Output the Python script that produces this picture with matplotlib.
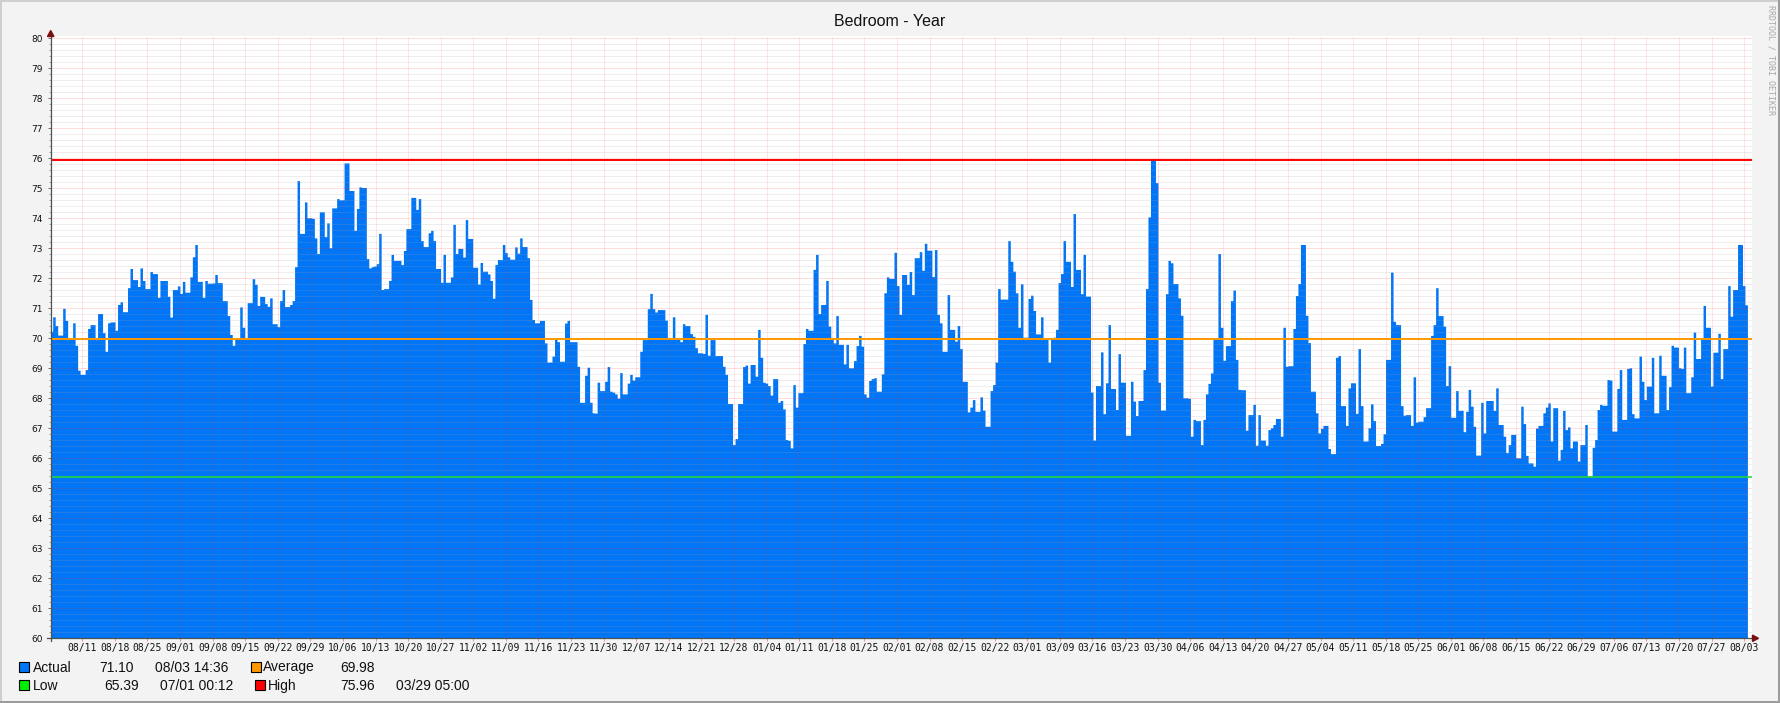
import matplotlib
matplotlib.use('Agg')
import matplotlib.pyplot as plt
import numpy as np
from matplotlib.patches import Rectangle, Polygon
from matplotlib.lines import Line2D

# ---------------- data ----------------
title = "Bedroom - Year"

seg1 = [70.22,70.70,70.41,70.09,70.09,70.98,70.58,70.00,70.00,70.50,
        69.75,68.92,68.78,68.78,68.94,70.31,70.44,70.44,69.94,70.81,
        70.81,70.17,69.55,70.50,70.53,70.53,70.25,71.11,71.20,70.87,
        70.87,71.67,72.31,71.94,71.94,71.71,72.33,71.91,71.64,71.64,
        72.21,72.14,72.14,71.35,71.91,71.91,71.91,71.38,70.69,71.61,
        71.61,71.73,71.48,71.88,71.52,71.52,72.03,72.70,73.11,71.88,
        71.88,71.35,71.91,71.82,71.82,71.83,72.11,71.84,71.84,71.24,
        71.24,70.74,70.11,69.75,69.98,70.00,71.03,70.35,70.00,71.17,
        71.17,71.97,71.78,71.08,71.38,71.38,71.14,71.05,71.33,70.47,
        70.47,70.37,71.24,71.61,71.04,71.04,71.11,71.24]
seg2 = [72.37,75.24,73.48,73.48,74.53,74.00,74.00,73.98,73.33,72.81,
        74.20,74.20,73.37,73.83,73.00,74.33,74.33,74.64,74.60,74.60,
        75.83,75.83,74.91,74.91,73.58,74.31,75.03,75.01,75.01,72.64,
        72.33,72.37,72.39,72.47,73.48,71.61,71.64,71.64,71.91,72.78,
        72.58,72.58,72.58,72.44,72.91,73.64,73.64,74.68,74.68,74.28,
        74.64,73.24,73.04,73.04,73.50,73.58,73.24,72.31,72.31,71.85,
        72.78,71.85,71.85,72.03,73.78,72.81,72.98,72.98,72.69,73.94,
        73.31,73.31,72.35,72.35,71.79,72.51,72.22,72.22,72.13,71.91,
        71.32,72.44,72.61,72.61,73.11,72.84,72.70,72.62,72.62,73.03,
        72.82,73.33,73.04,73.04,72.67,71.28,70.61,70.50,70.50]
seg3 = [70.58,70.58,69.83,69.19,69.19,69.39,70.00,69.87,69.22,69.22,
        70.49,70.58,69.87,69.87,69.87,69.05,67.85,67.85,68.75,69.02,
        67.85,67.50,67.49,68.52,68.24,68.24,68.55,69.04,68.22,68.19,
        68.13,67.99,68.84,68.13,68.13,68.49,68.78,68.59,68.70,68.70,
        69.55,69.94,69.94,70.97,71.48,70.97,70.86,70.94,70.94,70.94,
        70.59,69.98,69.98,70.70,69.98,69.98,69.87,70.47,70.41,70.41,
        70.14,70.05,69.67,69.50,69.50,69.48,70.78,69.42,69.94,69.94,
        69.41,69.41,69.41,69.05,68.78,67.81,67.81,66.44,66.64,67.81,
        67.81,69.04,69.09,68.49,69.11,69.11,68.72,70.28,69.35,68.52,
        68.49,68.41,68.09,68.64,68.64,67.85,67.91,67.63]
seg4 = [66.61,66.58,66.33,68.44,67.69,68.17,68.17,69.81,70.31,70.25,
        70.25,72.28,72.78,70.81,71.11,71.11,71.91,70.39,70.00,69.83,
        70.74,69.78,69.78,69.13,69.78,69.00,69.00,69.24,69.74,70.08,
        69.72,68.13,68.02,68.58,68.64,68.67,68.22,68.22,68.80,71.50,
        72.03,71.98,71.98,72.85,71.74,70.78,72.11,72.11,71.78,72.21,
        71.44,72.67,72.67,72.87,72.25,73.15,72.92,72.92,72.04,72.94,
        70.78,70.50,69.55,69.55,71.44,70.28,70.28,69.89,70.41,69.64,
        68.55,68.55,67.53,67.69,67.94,67.55,67.55,68.03,67.59,67.05,
        67.05,68.24,68.44,69.19,71.64,71.29,71.29,71.29,73.24,72.55,
        72.22,71.50,70.35,71.80,70.02,70.02,71.31]
seg5 = [71.42,70.91,70.13,70.13,70.70,70.00,70.00,69.19,70.00,70.02,
        70.28,71.84,72.14,73.24,72.55,72.55,71.71,74.14,72.28,72.28,
        71.47,72.78,71.39,71.39,68.19,66.59,68.41,68.41,69.53,67.47,
        68.50,70.44,68.31,68.31,67.61,69.47,68.52,68.52,66.75,66.75,
        68.55,67.89,67.41,67.91,67.91,68.94,71.64,74.03,75.96,75.96,
        75.17,68.52,67.59,67.59,71.47,72.58,72.50,71.81,71.81,71.33,
        70.75,68.00,68.00,67.98,66.72,67.28,67.24,67.24,66.44,67.28,
        68.13,68.48,68.83,70.00,70.00,72.81,70.35,69.25,69.74,69.74,
        71.24,71.59,69.28,68.28,68.27,68.27,66.92,67.44,67.44,67.78,
        66.42,67.44,66.59,66.59,66.42,66.94,67.00,67.11]
seg6 = [67.31,67.31,66.72,70.35,69.05,69.07,69.07,70.31,71.41,71.81,
        73.11,73.11,70.75,69.84,68.22,68.22,67.50,66.83,66.98,67.08,
        67.08,66.31,66.14,66.14,69.35,69.41,67.74,67.74,67.08,68.33,
        68.50,68.50,67.48,69.64,67.74,66.56,66.56,67.00,67.80,67.24,
        66.41,66.41,66.48,66.80,69.28,69.28,72.19,70.55,70.44,70.44,
        67.74,67.42,67.44,67.44,67.08,68.70,67.19,67.22,67.22,67.37,
        67.67,67.67,70.08,70.44,71.67,70.74,70.74,70.39,68.41,69.07,
        67.35,67.35,68.24,67.58,67.58,66.87,67.55,68.28,67.72,67.05,
        66.09,66.09,67.85,66.83,67.91,67.91,67.91,67.58,68.33,67.11,
        67.11,66.72,66.17,66.44,66.78,66.78,66.00,66.00]
seg7 = [67.72,67.14,66.08,65.83,65.83,65.72,66.99,67.08,67.08,67.50,
        67.69,67.83,66.56,67.67,67.67,65.92,66.28,67.58,66.94,67.03,
        66.33,66.56,66.56,65.89,66.44,66.44,67.11,65.39,65.39,66.35,
        66.61,67.61,67.78,67.75,67.75,68.61,68.59,66.89,66.89,68.31,
        68.94,67.28,67.28,68.98,69.00,67.47,67.33,67.33,69.39,68.55,
        67.94,68.39,68.39,69.35,67.50,67.50,69.42,68.75,68.75,67.61,
        68.37,69.75,69.69,69.69,69.00,68.98,69.69,68.17,68.17,68.70,
        70.19,69.31,69.31,69.98,71.08,70.35,70.35,68.39,69.52,69.52,
        70.15,68.64,69.64,69.64,71.74,70.72,71.61,71.61,73.11,73.11,
        71.74,71.10]
segments = [seg1, seg2, seg3, seg4, seg5, seg6, seg7]
# day offsets (days since graph start) bounding each segment of readings
segment_days = [0.0, 52.5, 105.1, 157.9, 210.6, 263.2, 315.9, 364.6]

x_labels = ['08/11','08/18','08/25','09/01','09/08','09/15','09/22','09/29',
            '10/06','10/13','10/20','10/27','11/02','11/09','11/16','11/23',
            '11/30','12/07','12/14','12/21','12/28','01/04','01/11','01/18',
            '01/25','02/01','02/08','02/15','02/22','03/01','03/09','03/16',
            '03/23','03/30','04/06','04/13','04/20','04/27','05/04','05/11',
            '05/18','05/25','06/01','06/08','06/15','06/22','06/29','07/06',
            '07/13','07/20','07/27','08/03']
first_label_day = 6.79
label_step_days = 7

avg_value = 69.98
low_value = 65.39
high_value = 75.96
actual_value = 71.10
actual_time = "08/03 14:36"
low_time = "07/01 00:12"
high_time = "03/29 05:00"

# ---------------- styling ----------------
W, H = 1781, 703
BLUE = '#0075F5'
ORANGE = '#FF9900'
GREEN = '#22DD33'
RED = '#FF0000'
BG = '#F3F3F3'

fig = plt.figure(figsize=(W / 100, H / 100), dpi=100, facecolor=BG)

def P(x, y):
    return (x / W, 1 - y / H)

ax_l, ax_r, ax_t, ax_b = 50.7, 1751.7, 36.0, 638.3
ax = fig.add_axes([ax_l / W, 1 - ax_b / H, (ax_r - ax_l) / W, (ax_b - ax_t) / H])
ax.set_facecolor('white')
px_per_day = 4.655
px_per_unit = 30.0
ax.set_xlim(0, (ax_r - ax_l) / px_per_day)
ax.set_ylim(60, 60 + (ax_b - ax_t) / px_per_unit)

# build stair data
vals, edges = [], []
for seg, a, b in zip(segments, segment_days[:-1], segment_days[1:]):
    e = np.linspace(a, b, len(seg) + 1)
    edges.extend(e[:-1])
    vals.extend(seg)
edges.append(segment_days[-1])
ax.stairs(vals, edges, baseline=60, fill=True, color=BLUE, zorder=2, lw=0)

# grid (drawn on top of area, translucent, dotted)
dot = (0, (1, 1))
minor_y = [v for v in np.round(np.arange(60.2, 80.01, 0.2), 1) if abs(v - round(v)) > 1e-6]
for v in minor_y:
    ax.axhline(v, color='#A8A8A8', alpha=0.38, lw=0.72, ls=dot, zorder=3)
for v in range(61, 81):
    ax.axhline(v, color='#FF3030', alpha=0.32, lw=0.72, ls=dot, zorder=3)
tick_days = [first_label_day + label_step_days * i for i in range(len(x_labels))]
for d in tick_days:
    ax.axvline(d, color='#FF3030', alpha=0.25, lw=0.72, ls=dot, zorder=3)

# rules
ax.axhline(high_value, color=RED, lw=1.4, zorder=4)
ax.axhline(avg_value, color=ORANGE, lw=1.4, zorder=4)
ax.axhline(low_value, color=GREEN, lw=1.1, zorder=4)

for s in ax.spines.values():
    s.set_visible(False)

ax.set_yticks(range(60, 81))
ax.set_yticklabels([str(v) for v in range(60, 81)])
ax.set_yticks(minor_y, minor=True)
ax.set_xticks(tick_days)
ax.set_xticklabels(x_labels)
ax.tick_params(axis='y', which='major', length=2.5, width=0.7, color='#707070',
               pad=3.0, labelsize=6.5, labelcolor='#111111')
ax.tick_params(axis='y', which='minor', length=1.5, width=0.6, color='#909090')
ax.tick_params(axis='x', which='major', length=2.2, width=0.7, color='#F09090',
               pad=1.2, labelsize=7, labelcolor='#111111')
for lab in ax.get_xticklabels():
    lab.set_family('DejaVu Sans Mono')
for lab in ax.get_yticklabels():
    lab.set_family('DejaVu Sans')

# axes lines and arrows
AX_COL = '#4A5550'
ARR = '#7A1010'
fig.add_artist(Line2D([P(50.7, 0)[0]] * 2, [P(0, 641)[1], P(0, 34)[1]],
                      transform=fig.transFigure, color=AX_COL, lw=0.9, zorder=5))
fig.add_artist(Line2D([P(47, 0)[0], P(1754, 0)[0]], [P(0, 638.3)[1]] * 2,
                      transform=fig.transFigure, color=AX_COL, lw=0.9, zorder=5))
fig.add_artist(Polygon([P(50.7, 30.5), P(47.5, 36.5), P(53.9, 36.5)], closed=True,
                       transform=fig.transFigure, color=ARR, zorder=6))
fig.add_artist(Polygon([P(1758.5, 638.3), P(1752.5, 635.1), P(1752.5, 641.5)], closed=True,
                       transform=fig.transFigure, color=ARR, zorder=6))

# title
fig.text(*P(890, 22), title, ha='center', va='center', fontsize=11.5,
         family='Liberation Sans', color='#111111')

# watermark
fig.text(*P(1771.5, 5), "RRDTOOL / TOBI OETIKER", rotation=270, ha='center', va='top',
         fontsize=6, family='DejaVu Sans Mono', color='#A8A8A8')

# legend
def box(x, y, c):
    fig.add_artist(Rectangle(P(x, y + 10), 10 / W, 10 / H, transform=fig.transFigure,
                             facecolor=c, edgecolor='black', lw=0.8, zorder=6))

def txt(x, y, s):
    fig.text(*P(x, y), s, ha='left', va='baseline', fontsize=10,
             family='Liberation Sans', color='#111111')

r1, r2 = 671.5, 690.0
box(19.3, r1 - 10, BLUE)
txt(32.5, r1, "Actual")
txt(99, r1, f"{actual_value:.2f}")
txt(155, r1, actual_time)
box(251, r1 - 10, ORANGE)
txt(263, r1, "Average")
txt(340, r1, f"{avg_value:.2f}")
box(19.3, r2 - 10, '#00EE00')
txt(32.5, r2, "Low")
txt(104, r2, f"{low_value:.2f}")
txt(160, r2, low_time)
box(255.5, r2 - 10, RED)
txt(268, r2, "High")
txt(340, r2, f"{high_value:.2f}")
txt(396, r2, high_time)

# 3D frame
fig.add_artist(Rectangle((0, 1 - 2 / H), 1, 2 / H, transform=fig.transFigure, color='#CFCFCF', lw=0, zorder=7))
fig.add_artist(Rectangle((0, 0), 2 / W, 1, transform=fig.transFigure, color='#CFCFCF', lw=0, zorder=7))
fig.add_artist(Rectangle((0, 0), 1, 2.5 / H, transform=fig.transFigure, color='#9C9C9C', lw=0, zorder=8))
fig.add_artist(Rectangle((1 - 2.5 / W, 0), 2.5 / W, 1, transform=fig.transFigure, color='#9C9C9C', lw=0, zorder=8))

fig.savefig('out.png', dpi=100, facecolor=BG)
